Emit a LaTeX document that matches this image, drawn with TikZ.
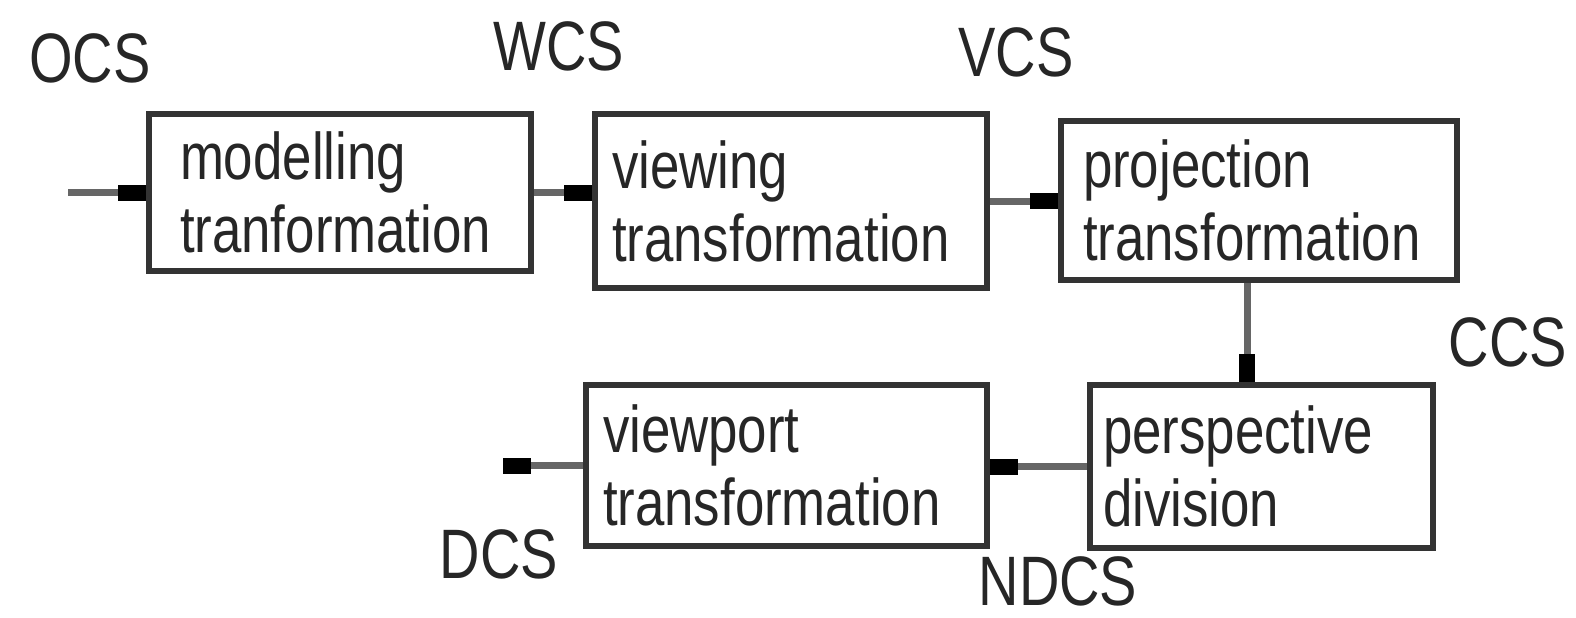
\documentclass[tikz,border=0pt]{standalone}
\usepackage{fontspec}
\setmainfont{Liberation Sans}[FakeStretch=0.8]
\usetikzlibrary{arrows.meta}
\begin{document}
\begin{tikzpicture}[x=0.5pt,y=-0.5pt,line join=miter,font=\fontsize{33}{36.5}\selectfont,
 blk/.style={draw=black!80,line width=3pt,inner sep=0pt,align=left,text=black!85},
 lbl/.style={font=\fontsize{35}{40}\selectfont,text=black!85,inner sep=0pt},
 arr/.style={draw=black!60,line width=3.5pt,-{Rectangle[length=14pt,width=8pt,color=black]}}]
 \useasboundingbox (0,0) rectangle (1576,617);
 \node[blk,minimum width=191pt,minimum height=78.5pt,text width=160pt] (model) at (340,192.5) {modelling\\tranformation};
 \node[blk,minimum width=196pt,minimum height=87pt,text width=179pt] (view) at (791,201) {viewing\\transformation};
 \node[blk,minimum width=198pt,minimum height=79.5pt,text width=176pt] (proj) at (1259,200.5) {projection\\transformation};
 \node[blk,minimum width=171.5pt,minimum height=81.5pt,text width=158.5pt] (persp) at (1261.5,466.5) {perspective\\division};
 \node[blk,minimum width=200.5pt,minimum height=80.5pt,text width=183.5pt] (vport) at (786.5,465.5) {viewport\\transformation};
 \node[lbl] (ocs) at (90,58) {OCS};
 \node[lbl] (wcs) at (559,46) {WCS};
 \node[lbl] (vcs) at (1016,52) {VCS};
 \node[lbl] (ccs) at (1508,342) {CCS};
 \node[lbl] (dcs) at (499,554) {DCS};
 \node[lbl] (ndcs) at (1058,581) {NDCS};
 \coordinate (in) at (68,192.5);
 \coordinate (out) at (503,465.5);
 \draw[arr] (in) -- (model.west);
 \draw[arr] (model.east) -- (view.west |- model.east);
 \draw[arr] (view.east) -- (proj.west |- view.east);
 \draw[arr] ([xshift=-6pt]proj.south) -- ([xshift=-6pt]proj.south |- persp.north);
 \draw[arr] (persp.west) -- (vport.east |- persp.west);
 \draw[arr] (vport.west) -- (out);
\end{tikzpicture}
\end{document}
